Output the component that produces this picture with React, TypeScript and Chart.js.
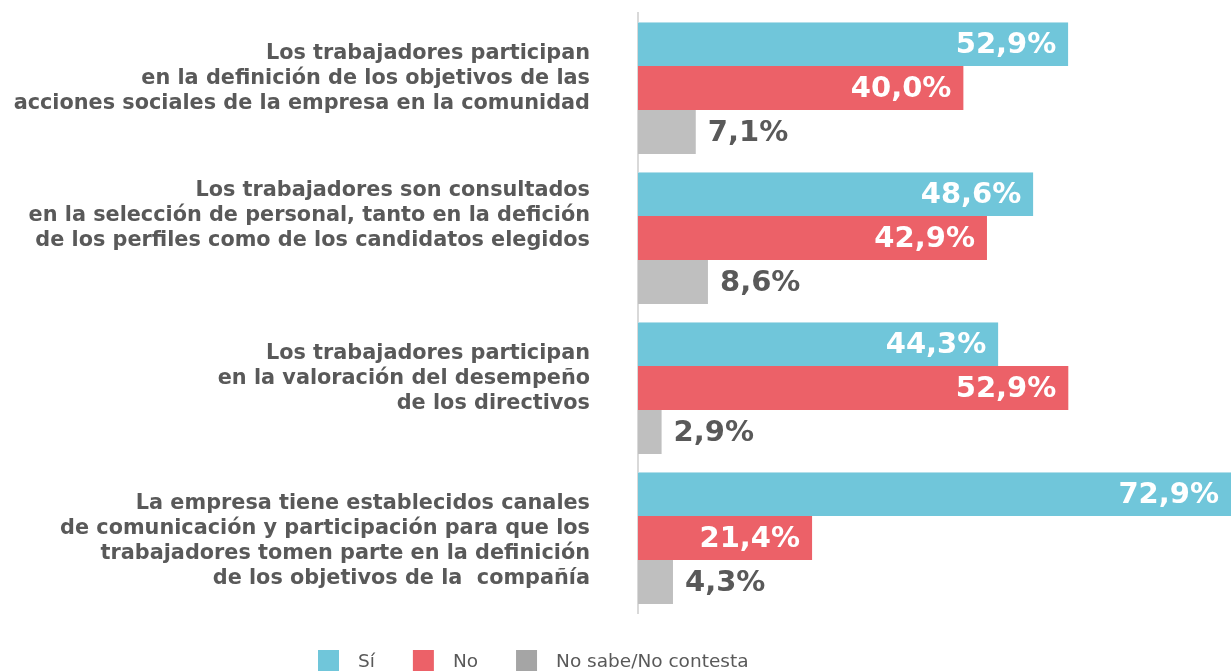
import React, { useEffect, useRef } from "react";
import { Chart, registerables } from "chart.js";

Chart.register(...registerables);

// ---- Data ----
const categories: string[][] = [
  [
    "Los trabajadores participan",
    "en la definición de los objetivos de las",
    "acciones sociales de la empresa en la comunidad",
    "",
  ],
  [
    "Los trabajadores son consultados",
    "en la selección de personal, tanto en la defición",
    "de los perfiles como de los candidatos elegidos",
    "",
    "",
  ],
  [
    "Los trabajadores participan",
    "en la valoración del desempeño",
    "de los directivos",
    "",
  ],
  [
    "La empresa tiene establecidos canales",
    "de comunicación y participación para que los",
    "trabajadores tomen parte en la definición",
    "de los objetivos de la  compañía",
  ],
];
const seriesNames = ["Sí", "No", "No sabe/No contesta"];
const siValues = [52.9, 48.6, 44.3, 72.9];
const noValues = [40.0, 42.9, 52.9, 21.4];
const nsncValues = [7.1, 8.6, 2.9, 4.3];

// ---- Styles ----
const barColors = ["#70c6da", "#ec6168", "#bfbfbf"];
const legendColors = ["#70c6da", "#ec6168", "#a5a5a5"];
const textColor = "#595959";

const fmt = (v: number) => v.toFixed(1).replace(".", ",") + "%";

const valueLabelPlugin = {
  id: "valueLabels",
  afterDatasetsDraw(chart: any) {
    const ctx = chart.ctx;
    ctx.save();
    ctx.font = "bold 29px 'DejaVu Sans'";
    ctx.textBaseline = "middle";
    chart.data.datasets.forEach((ds: any, di: number) => {
      const meta = chart.getDatasetMeta(di);
      meta.data.forEach((el: any, i: number) => {
        const v = ds.data[i];
        const t = fmt(v);
        if (di < 2) {
          ctx.fillStyle = "#ffffff";
          ctx.textAlign = "right";
          ctx.fillText(t, el.x - 12, el.y + 1);
        } else {
          ctx.fillStyle = textColor;
          ctx.textAlign = "left";
          ctx.fillText(t, el.x + 12, el.y + 1);
        }
      });
    });
    ctx.restore();
  },
};

const customLegendPlugin = {
  id: "customLegend",
  afterDraw(chart: any) {
    const ctx = chart.ctx;
    ctx.save();
    ctx.font = "18.5px 'DejaVu Sans'";
    ctx.textBaseline = "middle";
    ctx.textAlign = "left";
    let x = 318;
    const top = 650;
    const box = 21;
    chart.data.datasets.forEach((ds: any, di: number) => {
      ctx.fillStyle = legendColors[di];
      ctx.fillRect(x, top, box, box);
      ctx.fillStyle = textColor;
      const tx = x + 40;
      ctx.fillText(ds.label, tx, top + 12);
      x = tx + ctx.measureText(ds.label).width + 38;
    });
    ctx.restore();
  },
};

export default function App() {
  const canvasRef = useRef<HTMLCanvasElement | null>(null);

  useEffect(() => {
    if (!canvasRef.current) return;
    const chart = new Chart(canvasRef.current, {
      type: "bar",
      data: {
        labels: categories,
        datasets: [
          {
            label: seriesNames[0],
            data: siValues,
            backgroundColor: barColors[0],
            borderColor: "#b3dfea",
            borderWidth: { top: 1, right: 0, bottom: 0, left: 0 },
            borderSkipped: false,
          },
          { label: seriesNames[1], data: noValues, backgroundColor: barColors[1] },
          { label: seriesNames[2], data: nsncValues, backgroundColor: barColors[2] },
        ],
      },
      options: {
        indexAxis: "y",
        animation: false,
        responsive: true,
        maintainAspectRatio: false,
        datasets: {
          bar: { categoryPercentage: 0.88, barPercentage: 1 },
        },
        layout: { padding: { top: 13, bottom: 58, left: 0, right: 0 } },
        plugins: {
          legend: { display: false },
          tooltip: { enabled: false },
        },
        scales: {
          x: {
            display: false,
            min: 0,
            max: Math.max(...siValues, ...noValues, ...nsncValues),
          },
          y: {
            grid: { display: false, drawTicks: false },
            border: { display: true, color: "#d9d9d9", width: 2 },
            ticks: {
              color: textColor,
              padding: 48,
              labelOffset: 3,
              font: { family: "'DejaVu Sans'", weight: "bold", size: 20.8, lineHeight: 1.2 },
            },
            afterFit(scale: any) {
              scale.width = 638;
              scale.paddingTop = 0;
              scale.paddingBottom = 0;
            },
          },
        },
      },
      plugins: [valueLabelPlugin, customLegendPlugin],
    } as any);
    return () => chart.destroy();
  }, []);

  return (
    <div style={{ position: "fixed", top: 0, left: 0, width: 1231, height: 671, background: "#fff" }}>
      <canvas ref={canvasRef} />
    </div>
  );
}
